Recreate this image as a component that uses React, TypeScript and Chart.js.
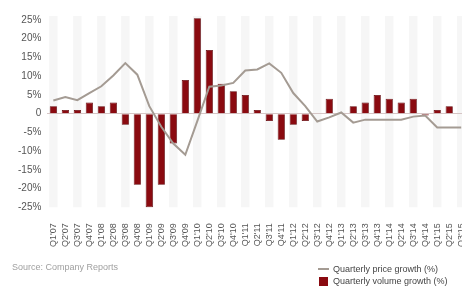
import React, { useEffect, useRef } from "react";
import { Chart, registerables } from "chart.js";

Chart.register(...registerables);

const categories = [
  "Q1'07", "Q2'07", "Q3'07", "Q4'07",
  "Q1'08", "Q2'08", "Q3'08", "Q4'08",
  "Q1'09", "Q2'09", "Q3'09", "Q4'09",
  "Q1'10", "Q2'10", "Q3'10", "Q4'10",
  "Q1'11", "Q2'11", "Q3'11", "Q4'11",
  "Q1'12", "Q2'12", "Q3'12", "Q4'12",
  "Q1'13", "Q2'13", "Q3'13", "Q4'13",
  "Q1'14", "Q2'14", "Q3'14", "Q4'14",
  "Q1'15", "Q2'15", "Q3'15",
];

const volumeGrowth = [
  2, 1, 1, 3,
  2, 3, -3, -19,
  -25, -19, -8, 9,
  25.5, 17, 8, 6,
  5, 1, -2, -7,
  -3, -2, 0, 4,
  0, 2, 3, 5,
  4, 3, 4, -0.5,
  1, 2, null,
];

const priceGrowth = [
  3.5, 4.4, 3.6, 5.5,
  7.3, 10.2, 13.5, 10.4,
  2, -3.5, -8, -11,
  -2, 7.2, 7.5, 8.2,
  11.5, 11.8, 13.4, 10.9,
  5.5, 2, -2.1, -1,
  0.3, -2.4, -1.6, -1.6,
  -1.6, -1.6, -0.8, -0.5,
  -3.7, -3.7, -3.7,
];

const yTicks = [25, 20, 15, 10, 5, 0, -5, -10, -15, -20, -25];

const PRICE_LABEL = "Quarterly price growth (%)";
const VOLUME_LABEL = "Quarterly volume growth (%)";
const SOURCE = "Source: Company Reports";

const FONT = "'Liberation Sans', Arial, Helvetica, sans-serif";
const BAR_COLOR = "#8a0a10";
const LINE_COLOR = "#a49b93";

const stripePlugin = {
  id: "stripes",
  beforeDraw(chart: any) {
    const { ctx, chartArea, scales } = chart;
    const x = scales.x;
    if (!x) return;
    const step = x.getPixelForValue(1) - x.getPixelForValue(0);
    const w = step * 0.7;
    ctx.save();
    ctx.fillStyle = "#f6f6f6";
    for (let i = 0; i < categories.length; i += 2) {
      const cx = x.getPixelForValue(i);
      ctx.fillRect(cx - w / 2, chartArea.top - 4, w, chartArea.bottom - chartArea.top + 4);
    }
    ctx.restore();
  },
};

export default function App() {
  const ref = useRef<HTMLCanvasElement | null>(null);

  useEffect(() => {
    if (!ref.current) return;
    const chart = new Chart(ref.current, {
      type: "bar",
      data: {
        labels: categories,
        datasets: [
          {
            type: "line",
            label: PRICE_LABEL,
            data: priceGrowth,
            borderColor: LINE_COLOR,
            borderWidth: 2,
            pointRadius: 0,
            tension: 0,
            order: 0,
          } as any,
          {
            type: "bar",
            label: VOLUME_LABEL,
            data: volumeGrowth,
            backgroundColor: BAR_COLOR,
            borderColor: "#5c0005",
            borderWidth: 0.8,
            barPercentage: 0.6,
            categoryPercentage: 1,
            clip: 6,
            order: 1,
          } as any,
        ],
      },
      options: {
        animation: false,
        responsive: true,
        maintainAspectRatio: false,
        layout: { padding: { left: 12, right: 0, top: 20, bottom: 10 } },
        plugins: {
          legend: { display: false },
          tooltip: { enabled: false },
        },
        scales: {
          x: {
            grid: { display: false },
            border: { display: false },
            ticks: {
              autoSkip: false,
              minRotation: 90,
              maxRotation: 90,
              padding: 8,
              color: "#555",
              font: { family: FONT, size: 9 },
            },
          },
          y: {
            min: -25,
            max: 25,
            afterBuildTicks: (axis: any) => {
              axis.ticks = yTicks.map((v) => ({ value: v }));
            },
            border: { display: false },
            grid: {
              drawTicks: false,
              lineWidth: 1,
              color: (c: any) => (c.tick && c.tick.value === 0 ? "#d6c6c6" : "rgba(0,0,0,0)"),
            },
            ticks: {
              padding: 6,
              color: "#555",
              font: { family: FONT, size: 10 },
              callback: (v: any) => (Number(v) === 0 ? "0" : `${v}%`),
            },
          },
        },
      },
      plugins: [stripePlugin],
    });
    return () => chart.destroy();
  }, []);

  return (
    <div
      style={{
        position: "fixed",
        left: 0,
        top: 0,
        width: 462,
        height: 286,
        overflow: "hidden",
        background: "#fff",
        fontFamily: FONT,
      }}
    >
      <div style={{ position: "absolute", left: 0, top: 0, width: 480, height: 265 }}>
        <canvas ref={ref} />
      </div>
      <div
        style={{
          position: "absolute",
          left: 12,
          top: 262,
          fontSize: 9,
          lineHeight: "11px",
          color: "#a0a0a0",
          whiteSpace: "nowrap",
        }}
      >
        {SOURCE}
      </div>
      <div style={{ position: "absolute", left: 318, top: 263, fontSize: 9, lineHeight: "12px", color: "#444" }}>
        <div style={{ display: "flex", alignItems: "center", whiteSpace: "nowrap" }}>
          <span style={{ display: "inline-block", width: 11, height: 2, background: LINE_COLOR, marginRight: 4 }} />
          {PRICE_LABEL}
        </div>
        <div style={{ display: "flex", alignItems: "center", whiteSpace: "nowrap" }}>
          <span style={{ display: "inline-block", width: 9, height: 9, background: BAR_COLOR, marginLeft: 1, marginRight: 5 }} />
          {VOLUME_LABEL}
        </div>
      </div>
    </div>
  );
}
